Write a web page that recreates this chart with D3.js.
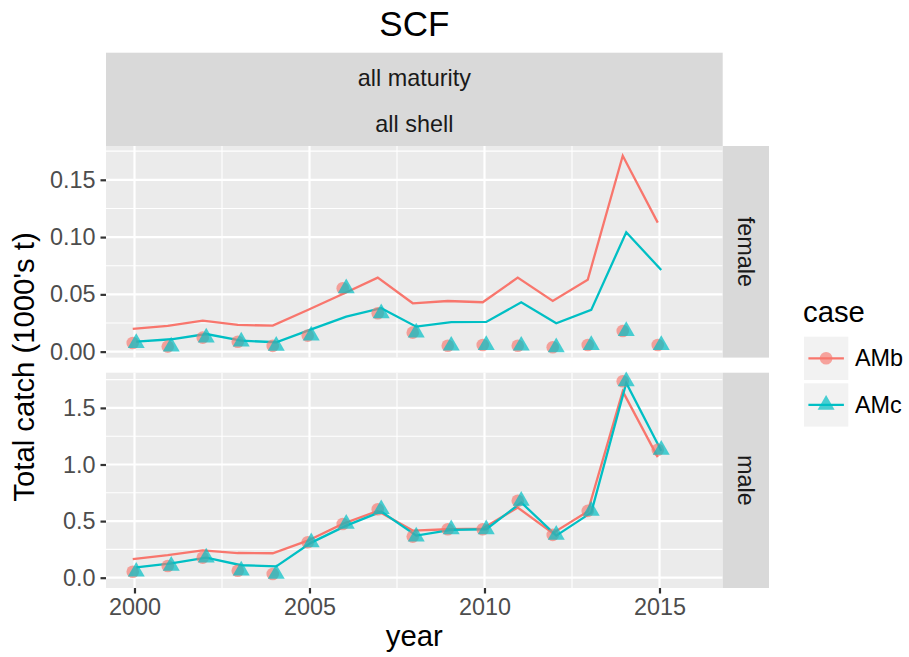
<!DOCTYPE html>
<html>
<head>
<meta charset="utf-8">
<script src="https://cdn.jsdelivr.net/npm/d3@7"></script>
<style>
  body { margin: 0; background: #fff; }
  text { font-family: "Liberation Sans", Arial, sans-serif; }
</style>
</head>
<body>
<div id="chart"></div>
<script>
// values
const years = [2000, 2001, 2002, 2003, 2004, 2005, 2006, 2007, 2008, 2009, 2010, 2011, 2012, 2013, 2014, 2015];
const cases = ["AMb", "AMc"];
const sexes = ["female", "male"];

// model fits (lines)
const femaleAMb = [0.0198, 0.0224, 0.027, 0.0233, 0.0227, 0.0364, 0.0503, 0.0646, 0.0422, 0.0442, 0.0431, 0.0646, 0.0442, 0.0628, 0.171, 0.1126];
const femaleAMc = [0.0087, 0.0108, 0.0154, 0.0096, 0.0082, 0.0195, 0.0305, 0.0379, 0.0218, 0.0257, 0.0259, 0.0431, 0.0248, 0.0364, 0.1042, 0.0713];
const maleAMb = [0.165, 0.2, 0.242, 0.218, 0.216, 0.327, 0.475, 0.59, 0.416, 0.428, 0.434, 0.62, 0.393, 0.584, 1.646, 1.065];
const maleAMc = [0.092, 0.127, 0.177, 0.11, 0.1, 0.31, 0.46, 0.584, 0.372, 0.422, 0.428, 0.664, 0.372, 0.575, 1.72, 1.121];

// observed catch (points, same for both cases)
const femaleObs = [0.0075, 0.0044, 0.0122, 0.0087, 0.005, 0.014, 0.0553, 0.0335, 0.0166, 0.0052, 0.0058, 0.0052, 0.0038, 0.0058, 0.018, 0.0058];
const maleObs = [0.053, 0.104, 0.177, 0.062, 0.033, 0.313, 0.475, 0.605, 0.363, 0.428, 0.428, 0.68, 0.378, 0.59, 1.735, 1.13];

const xTicks = [2000, 2005, 2010, 2015];
const femaleTicks = [0, 0.05, 0.10, 0.15];
const maleTicks = [0, 0.5, 1.0, 1.5];

const fits = { female: { AMb: femaleAMb, AMc: femaleAMc }, male: { AMb: maleAMb, AMc: maleAMc } };
const obs = { female: femaleObs, male: maleObs };

const width = 909, height = 657;
const colors = { AMb: "#F8766D", AMc: "#00BFC4" };
const dodge = { AMb: -0.05, AMc: 0.05 }; // small position dodge

const smallFont = "23.4px", axisFont = "29.3px", titleFont = "35px";

const panelLeft = 106, panelRight = 722.7, stripW = 46.3;
const panels = [
    { sex: "female", top: 146, bottom: 357.6, domain: [-0.0052, 0.1795], ticks: femaleTicks, fmt: d3.format(".2f") },
    { sex: "male", top: 372.7, bottom: 588, domain: [-0.091, 1.811], ticks: maleTicks, fmt: d3.format(".1f") }
];

let svg = d3.select("#chart")
    .append("svg")
    .attr("width", width)
    .attr("height", height);

let x = d3.scaleLinear()
    .domain([1999.186, 2016.806])
    .range([panelLeft, panelRight]);

const xMinor = [2002.5, 2007.5, 2012.5];

// title
svg.append("text")
    .attr("x", (panelLeft + panelRight) / 2)
    .attr("y", 36)
    .attr("text-anchor", "middle")
    .style("font-size", titleFont)
    .style("fill", "#000")
    .text("SCF");

// top strip (two facet labels)
svg.append("rect")
    .attr("x", panelLeft)
    .attr("y", 52.7)
    .attr("width", panelRight - panelLeft)
    .attr("height", 146 - 52.7)
    .attr("fill", "#D9D9D9");

["all maturity", "all shell"].forEach((lab, i) => {
    svg.append("text")
        .attr("x", (panelLeft + panelRight) / 2)
        .attr("y", 85.5 + i * 46)
        .attr("text-anchor", "middle")
        .style("font-size", smallFont)
        .style("fill", "#1A1A1A")
        .text(lab);
});

const line = d3.line();

for (let p of panels) {
    let y = d3.scaleLinear()
        .domain(p.domain)
        .range([p.bottom, p.top]);

    let g = svg.append("g");

    g.append("rect")
        .attr("x", panelLeft)
        .attr("y", p.top)
        .attr("width", panelRight - panelLeft)
        .attr("height", p.bottom - p.top)
        .attr("fill", "#EBEBEB");

    // minor grid
    const step = p.ticks[1] - p.ticks[0];
    const yMinor = p.ticks.map(t => t + step / 2).filter(v => v < p.domain[1]);
    g.selectAll(".ymin").data(yMinor).join("line")
        .attr("x1", panelLeft).attr("x2", panelRight)
        .attr("y1", d => y(d)).attr("y2", d => y(d))
        .attr("stroke", "#fff").attr("stroke-width", 1.1);
    g.selectAll(".xmin").data(xMinor).join("line")
        .attr("x1", d => x(d)).attr("x2", d => x(d))
        .attr("y1", p.top).attr("y2", p.bottom)
        .attr("stroke", "#fff").attr("stroke-width", 1.1);

    // major grid
    g.selectAll(".ymaj").data(p.ticks).join("line")
        .attr("x1", panelLeft).attr("x2", panelRight)
        .attr("y1", d => y(d)).attr("y2", d => y(d))
        .attr("stroke", "#fff").attr("stroke-width", 2.2);
    g.selectAll(".xmaj").data(xTicks).join("line")
        .attr("x1", d => x(d)).attr("x2", d => x(d))
        .attr("y1", p.top).attr("y2", p.bottom)
        .attr("stroke", "#fff").attr("stroke-width", 2.2);

    // y axis
    let yAxis = g.append("g")
        .attr("transform", `translate(${panelLeft},0)`)
        .call(d3.axisLeft(y).tickValues(p.ticks).tickFormat(p.fmt).tickSize(5.5).tickPadding(5));
    yAxis.select(".domain").remove();
    yAxis.selectAll(".tick line").attr("stroke", "#333333").attr("stroke-width", 2.2);
    yAxis.selectAll(".tick text")
        .style("font-size", smallFont)
        .style("fill", "#4D4D4D")
        .style("font-family", "Liberation Sans, Arial, sans-serif");

    // right strip
    g.append("rect")
        .attr("x", panelRight)
        .attr("y", p.top)
        .attr("width", stripW)
        .attr("height", p.bottom - p.top)
        .attr("fill", "#D9D9D9");
    g.append("text")
        .attr("transform", `translate(${panelRight + stripW / 2},${(p.top + p.bottom) / 2}) rotate(90)`)
        .attr("text-anchor", "middle")
        .attr("dominant-baseline", "central")
        .style("font-size", smallFont)
        .style("fill", "#1A1A1A")
        .text(p.sex);

    // lines
    for (let c of cases) {
        const vals = fits[p.sex][c];
        g.append("path")
            .attr("d", line(years.map((yr, i) => [x(yr + dodge[c]), y(vals[i])])))
            .attr("fill", "none")
            .attr("stroke", colors[c])
            .attr("stroke-width", 2.3);
    }

    // observed points
    const ob = obs[p.sex];
    g.selectAll(".circ").data(years).join("circle")
        .attr("cx", (d, i) => x(d + dodge.AMb))
        .attr("cy", (d, i) => y(ob[i]))
        .attr("r", 6.3)
        .attr("fill", colors.AMb)
        .attr("opacity", 0.65);
    g.selectAll(".tri").data(years).join("path")
        .attr("d", d3.symbol(d3.symbolTriangle, 125))
        .attr("transform", (d, i) => `translate(${x(d + dodge.AMc)},${y(ob[i])})`)
        .attr("fill", colors.AMc)
        .attr("opacity", 0.7);
}

// x axis under bottom panel
let xAxis = svg.append("g")
    .attr("transform", `translate(0,${panels[1].bottom})`)
    .call(d3.axisBottom(x).tickValues(xTicks).tickFormat(d3.format("d")).tickSize(5.5).tickPadding(5));
xAxis.select(".domain").remove();
xAxis.selectAll(".tick line").attr("stroke", "#333333").attr("stroke-width", 2.2);
xAxis.selectAll(".tick text")
    .style("font-size", smallFont)
    .style("fill", "#4D4D4D")
    .style("font-family", "Liberation Sans, Arial, sans-serif");

// axis titles
svg.append("text")
    .attr("x", (panelLeft + panelRight) / 2)
    .attr("y", 646)
    .attr("text-anchor", "middle")
    .style("font-size", axisFont)
    .text("year");

svg.append("text")
    .attr("transform", `translate(34,${(panels[0].top + panels[1].bottom) / 2}) rotate(-90)`)
    .attr("text-anchor", "middle")
    .style("font-size", axisFont)
    .text("Total catch (1000's t)");

// legend
svg.append("text")
    .attr("x", 803)
    .attr("y", 322)
    .style("font-size", axisFont)
    .text("case");

cases.forEach((c, i) => {
    const ky = 336.7 + i * 46.6;
    const lg = svg.append("g").attr("transform", `translate(804,${ky})`);
    lg.append("rect")
        .attr("width", 44.3).attr("height", 43.3)
        .attr("fill", "#F2F2F2");
    lg.append("line")
        .attr("x1", 4.4).attr("x2", 39.9)
        .attr("y1", 21.6).attr("y2", 21.6)
        .attr("stroke", colors[c]).attr("stroke-width", 2.3);
    if (c === "AMb") {
        lg.append("circle").attr("cx", 22.1).attr("cy", 21.6).attr("r", 6.3)
            .attr("fill", colors[c]).attr("opacity", 0.65);
    } else {
        lg.append("path").attr("d", d3.symbol(d3.symbolTriangle, 125))
            .attr("transform", "translate(22.1,21.6)")
            .attr("fill", colors[c]).attr("opacity", 0.7);
    }
    lg.append("text")
        .attr("x", 51)
        .attr("y", 21.6)
        .attr("dominant-baseline", "central")
        .style("font-size", smallFont)
        .text(c);
});
</script>
</body>
</html>
